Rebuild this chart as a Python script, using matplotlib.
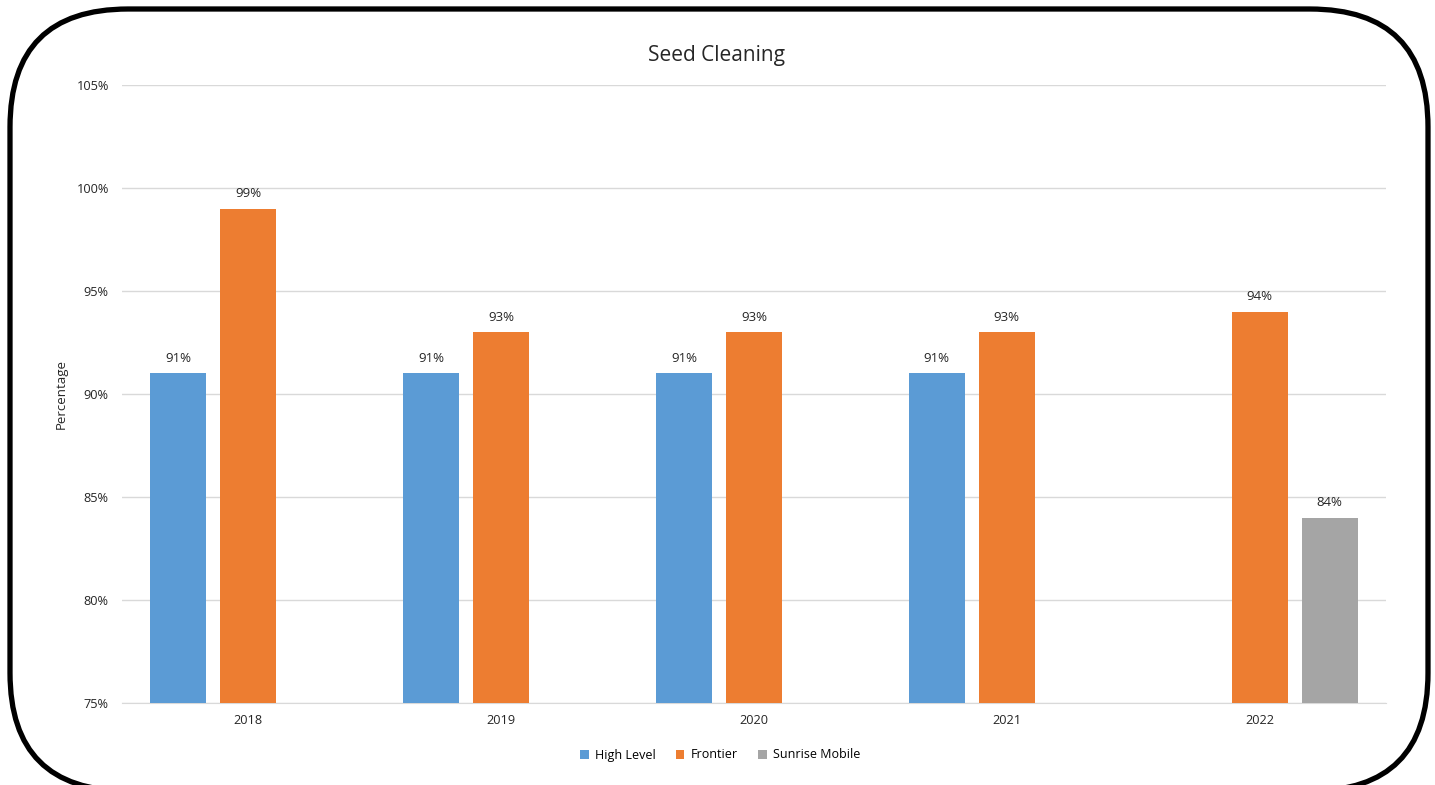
import numpy as np
import matplotlib.pyplot as plt
from matplotlib.patches import FancyBboxPatch
from matplotlib.ticker import FuncFormatter

plt.rcParams['font.family'] = ['Open Sans', 'DejaVu Sans']

years = ['2018', '2019', '2020', '2021', '2022']
high_level = [91, 91, 91, 91, np.nan]
frontier = [99, 93, 93, 93, 94]
sunrise = [np.nan, np.nan, np.nan, np.nan, 84]
series_names = ['High Level', 'Frontier', 'Sunrise Mobile']
colors = ['#5B9BD5', '#ED7D31', '#A5A5A5']

W, H = 1435, 785
fig = plt.figure(figsize=(W / 100, H / 100), dpi=100)

# axes in pixel positions
left, right, top, bottom = 122, 1386, 85, 703
ax = fig.add_axes([left / W, 1 - bottom / H, (right - left) / W, (bottom - top) / H])

x = np.arange(len(years))
bw = 0.2215
off = 0.277
for i, (vals, name, c) in enumerate(zip([high_level, frontier, sunrise], series_names, colors)):
    pos = x + (i - 1) * off
    ax.bar(pos, np.array(vals) - 75, bw, bottom=75, color=c, label=name, zorder=3)
    for p, v in zip(pos, vals):
        if not np.isnan(v):
            ax.text(p, v + 0.4, f'{v:.0f}%', ha='center', va='bottom', fontsize=9.5, color='#262626')

ax.set_ylim(75, 105)
ax.set_xlim(-0.5, len(years) - 0.5)
ax.set_yticks(np.arange(75, 106, 5))
ax.yaxis.set_major_formatter(FuncFormatter(lambda v, p: f'{v:.0f}%'))
ax.set_xticks(x)
ax.set_xticklabels(years)
ax.tick_params(length=0, labelsize=9.2, colors='#262626')
ax.tick_params(axis='y', pad=9.5)
ax.tick_params(axis='x', pad=8)
ax.grid(axis='y', color='#d9d9d9', linewidth=1, zorder=0)
for s in ['top', 'right', 'left']:
    ax.spines[s].set_visible(False)
ax.spines['bottom'].set_color('#d9d9d9')
ax.set_ylabel('Percentage', fontsize=9.5, color='#262626', labelpad=6)

# title and legend are centred on the chart area, not the plot area
fig.text(717 / W, 1 - 56 / H, 'Seed Cleaning', ha='center', va='center', fontsize=15, color='#262626')
fig.legend(*ax.get_legend_handles_labels(), loc='center', bbox_to_anchor=(720 / W, 1 - 755 / H), ncol=3,
           frameon=False, fontsize=9, handlelength=0.7, handleheight=0.7, handletextpad=0.5,
           columnspacing=1.6, borderpad=0)

# rounded border in pixel coordinates (y up)
bax = fig.add_axes([0, 0, 1, 1], zorder=5)
bax.set_xlim(0, W)
bax.set_ylim(0, H)
bax.axis('off')
bax.patch.set_alpha(0)
border = FancyBboxPatch((10, H - 791), 1418, 782, boxstyle='round,pad=0,rounding_size=118',
                        fill=False, edgecolor='black', linewidth=3.8, clip_on=False)
bax.add_patch(border)

fig.savefig('out.png', dpi=100)
